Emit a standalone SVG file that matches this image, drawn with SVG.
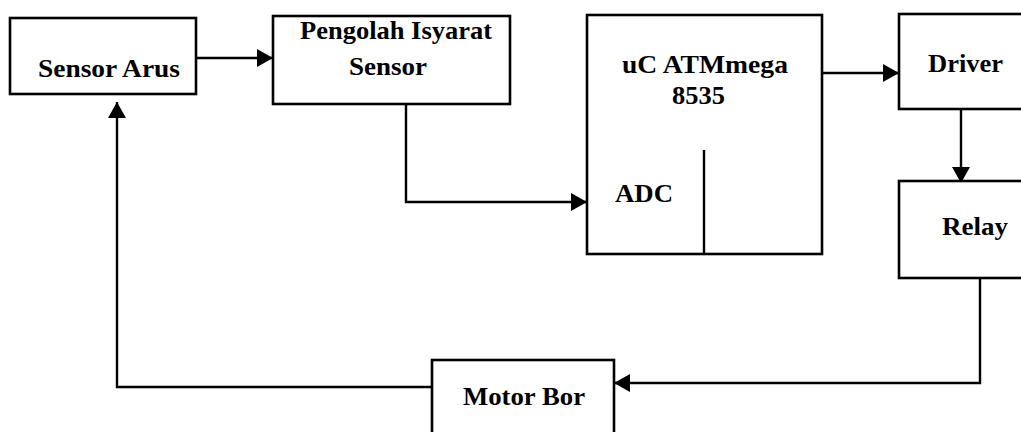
<svg xmlns="http://www.w3.org/2000/svg" width="1021" height="432" viewBox="0 0 1021 432">
  <style>
    .box { fill: #fff; stroke: #000; stroke-width: 2.6; }
    .wire { fill: none; stroke: #000; stroke-width: 2.4; }
    .lbl { font-family: "Liberation Serif", "Times New Roman", serif; font-size: 25px; font-weight: bold; fill: #000; }
  </style>
  <defs>
    <marker id="ah" markerUnits="userSpaceOnUse" markerWidth="18" markerHeight="18" viewBox="0 0 16 18" refX="16" refY="9" orient="auto">
      <path d="M0,0 L16,9 L0,18 Z" fill="#000"/>
    </marker>
  </defs>
  <rect width="1021" height="432" fill="#fff"/>
  <g id="connectors">
    <line class="wire" x1="196" y1="58" x2="273" y2="58" marker-end="url(#ah)"/>
    <polyline class="wire" points="406,104 406,202 587,202" marker-end="url(#ah)"/>
    <line class="wire" x1="822" y1="73" x2="899" y2="73" marker-end="url(#ah)"/>
    <line class="wire" x1="961" y1="109" x2="961" y2="183" marker-end="url(#ah)"/>
    <polyline class="wire" points="980,278 980,383 614,383" marker-end="url(#ah)"/>
    <polyline class="wire" points="432,387 117,387 117,102" marker-end="url(#ah)"/>
  </g>
  <g id="sensor-arus">
    <rect class="box" x="10" y="18" width="186" height="76"/>
    <text class="lbl" x="38" y="77" textLength="142" lengthAdjust="spacingAndGlyphs">Sensor Arus</text>
  </g>
  <g id="pengolah">
    <rect class="box" x="273" y="16" width="237" height="88"/>
    <text class="lbl" x="300" y="39" textLength="192" lengthAdjust="spacingAndGlyphs">Pengolah Isyarat</text>
    <text class="lbl" x="349" y="75" textLength="78" lengthAdjust="spacingAndGlyphs">Sensor</text>
  </g>
  <g id="uc">
    <rect class="box" x="587" y="15" width="235" height="239"/>
    <line class="wire" x1="704" y1="150" x2="704" y2="254"/>
    <text class="lbl" x="622" y="73" textLength="166" lengthAdjust="spacingAndGlyphs">uC ATMmega</text>
    <text class="lbl" x="672" y="104" textLength="53" lengthAdjust="spacingAndGlyphs">8535</text>
    <text class="lbl" x="615" y="202" textLength="58" lengthAdjust="spacingAndGlyphs">ADC</text>
  </g>
  <g id="driver">
    <rect class="box" x="899" y="14" width="135" height="95"/>
    <text class="lbl" x="928" y="72" textLength="75" lengthAdjust="spacingAndGlyphs">Driver</text>
  </g>
  <g id="relay">
    <rect class="box" x="899" y="181" width="135" height="97"/>
    <text class="lbl" x="942" y="235" textLength="66" lengthAdjust="spacingAndGlyphs">Relay</text>
  </g>
  <g id="motor-bor">
    <rect class="box" x="432" y="360" width="182" height="80"/>
    <text class="lbl" x="463" y="405" textLength="122" lengthAdjust="spacingAndGlyphs">Motor Bor</text>
  </g>
</svg>
